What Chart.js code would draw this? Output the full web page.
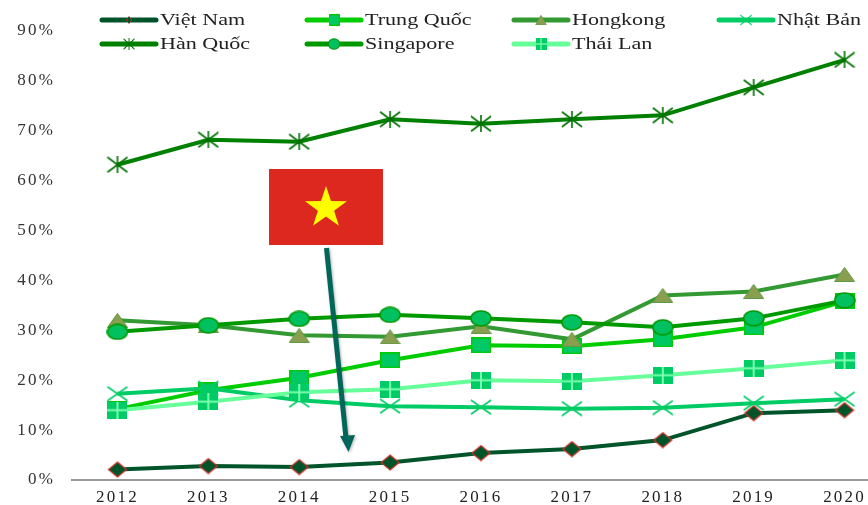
<!DOCTYPE html>
<html><head><meta charset="utf-8">
<style>html,body{margin:0;padding:0;background:#fff;overflow:hidden;width:868px;height:505px}
#w{position:absolute;left:0;top:0;width:904px;height:505px}canvas{display:block;filter:blur(0.45px)}</style>
<script src="https://cdn.jsdelivr.net/npm/chart.js@4"></script></head><body><div id="w"><canvas id="c" width="904" height="505" style="width:904px;height:505px"></canvas></div>
<script>
const years=['2012','2013','2014','2015','2016','2017','2018','2019','2020'];
const vietNam=[2.1,2.8,2.6,3.5,5.4,6.2,8,13.4,14];
const trungQuoc=[14.2,18,20.5,24,27,26.8,28.2,30.6,35.8];
const hongkong=[32,31,29,28.7,30.8,28.2,37,37.8,41.2];
const nhatBan=[17.3,18.4,16,14.8,14.6,14.3,14.5,15.4,16.2];
const hanQuoc=[63.2,68.2,67.8,72.3,71.4,72.3,73.1,78.7,84.2];
const singapore=[29.7,31,32.3,33.1,32.4,31.6,30.6,32.4,36];
const thaiLan=[14,15.7,17.6,18.2,20,19.8,21,22.4,24];
function mk(w,h,fn){const c=document.createElement('canvas');c.width=w;c.height=h;fn(c.getContext('2d'),w,h);return c;}
const mDiamond=mk(22,17,(x,w,h)=>{x.fillStyle='#00542A';x.strokeStyle='#d0302a';x.lineWidth=1.2;x.beginPath();x.moveTo(w/2,1);x.lineTo(w-2,h/2);x.lineTo(w/2,h-1);x.lineTo(2,h/2);x.closePath();x.fill();x.stroke();});
const mSquare=mk(20,16,(x,w,h)=>{x.fillStyle='#00C864';x.fillRect(0,0,w,h);x.strokeStyle='#00CC00';x.lineWidth=1.5;x.strokeRect(.75,.75,w-1.5,h-1.5);});
const mTri=mk(21,15,(x,w,h)=>{x.fillStyle='#8A9E50';x.strokeStyle='#5f9a45';x.lineWidth=1;x.beginPath();x.moveTo(w/2,.5);x.lineTo(w-.5,h-.5);x.lineTo(.5,h-.5);x.closePath();x.fill();x.stroke();});
const mX=mk(22,16,(x,w,h)=>{x.strokeStyle='#00CC66';x.lineWidth=1.6;x.beginPath();x.moveTo(1,1);x.lineTo(w-1,h-1);x.moveTo(w-1,1);x.lineTo(1,h-1);x.stroke();});
const mStar=mk(22,17,(x,w,h)=>{x.strokeStyle='#007000';x.lineWidth=1.6;x.beginPath();x.moveTo(1,1);x.lineTo(w-1,h-1);x.moveTo(w-1,1);x.lineTo(1,h-1);x.moveTo(w/2,0);x.lineTo(w/2,h);x.stroke();});
const mEll=mk(22,17,(x,w,h)=>{x.fillStyle='#00C060';x.strokeStyle='#009900';x.lineWidth=1.6;x.beginPath();x.ellipse(w/2,h/2,w/2-1,h/2-1,0,0,7);x.fill();x.stroke();});
const mCross=mk(20,17,(x,w,h)=>{x.fillStyle='#00CC66';x.fillRect(0,0,w,h);x.fillStyle='#7dffb0';x.fillRect(9,0,2,h);x.fillRect(0,7.5,w,2);});
const styles=[
 {label:'Việt Nam',data:vietNam,line:'#00542A',ps:mDiamond},
 {label:'Trung Quốc',data:trungQuoc,line:'#00CC00',ps:mSquare},
 {label:'Hongkong',data:hongkong,line:'#339933',ps:mTri},
 {label:'Nhật Bản',data:nhatBan,line:'#00CC66',ps:mX},
 {label:'Hàn Quốc',data:hanQuoc,line:'#008000',ps:mStar},
 {label:'Singapore',data:singapore,line:'#009900',ps:mEll},
 {label:'Thái Lan',data:thaiLan,line:'#66FF99',ps:mCross}
];
const legendCols=[100,305,512,717], legendRows=[20,44];
const overlay={id:'overlay',
 beforeDraw(ch){ch.ctx.letterSpacing='2.2px';},
 afterDraw(ch){const x=ch.ctx;x.save();x.letterSpacing='0px';
  styles.forEach((s,i)=>{const col=legendCols[i%4],y=legendRows[i<4?0:1];
   x.strokeStyle=s.line;x.lineWidth=5;x.lineCap='round';x.beginPath();x.moveTo(col+2,y);x.lineTo(col+56,y);x.stroke();
   const cx=col+29,w=s.ps.width*(i==0?.3:.55),h=s.ps.height*(i==0?.5:.7);
   x.drawImage(s.ps,cx-w/2,y-h/2,w,h);
   x.save();x.translate(col+60,y+5);x.scale(1.38,1);x.fillStyle='#222';x.font='16px "Liberation Serif"';x.textAlign='left';x.fillText(s.label,0,0);x.restore();
  });
  x.fillStyle='#DC281E';x.fillRect(269,169,114,76);
  x.fillStyle='#FFFF00';x.beginPath();for(let k=0;k<10;k++){const r=k%2?8.5:22,a=-Math.PI/2+k*Math.PI/5,px=326+r*Math.cos(a),py=208+r*Math.sin(a);k?x.lineTo(px,py):x.moveTo(px,py);}x.closePath();x.fill();
  x.shadowColor='rgba(0,0,0,.3)';x.shadowBlur=3;x.shadowOffsetX=1;x.shadowOffsetY=1;
  x.strokeStyle='#00665A';x.lineWidth=5;x.lineCap='butt';x.beginPath();x.moveTo(326.5,248);x.lineTo(346,438);x.stroke();
  x.fillStyle='#00665A';x.beginPath();x.moveTo(340,436);x.lineTo(355,435);x.lineTo(348.5,452);x.closePath();x.fill();
  x.restore();
 }};
new Chart(document.getElementById('c'),{type:'line',
 data:{labels:years,datasets:styles.map((s,i)=>({label:s.label,data:s.data,borderColor:s.line,backgroundColor:s.line,borderWidth:4,tension:0,clip:false,
  pointStyle:s.ps,pointRadius:10,order:10-i}))},
 options:{responsive:false,animation:false,devicePixelRatio:1,
  layout:{padding:{top:31,bottom:0,left:0,right:0}},
  plugins:{legend:{display:false},tooltip:{enabled:false}},
  scales:{
   x:{offset:true,grid:{display:false,drawTicks:false},border:{color:'#999',width:2},afterFit(a){a.height=25;a.paddingLeft=0;a.paddingRight=0;a.paddingTop=0;a.paddingBottom=0;},ticks:{color:'#222',padding:7,font:{family:'Liberation Serif',size:17},maxRotation:0}},
   y:{min:0,max:90,grid:{display:false,drawTicks:false},border:{display:false},afterFit(a){a.width=72;a.paddingTop=0;a.paddingBottom=0;a.paddingLeft=0;a.paddingRight=0;},
    ticks:{stepSize:10,color:'#333',padding:17,font:{family:'Liberation Serif',size:17},callback:v=>v+'%'}}
  }},
 plugins:[overlay]});
</script></body></html>
